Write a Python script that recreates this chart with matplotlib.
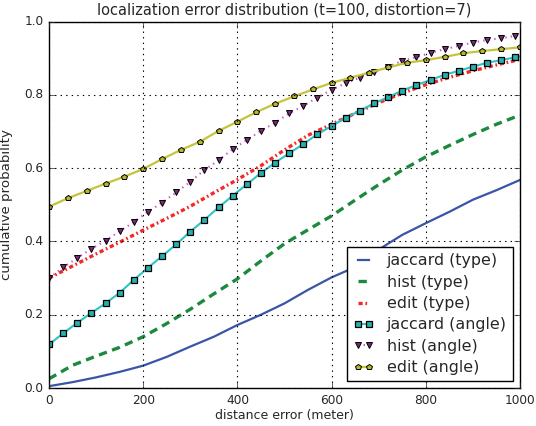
import matplotlib
matplotlib.use('Agg')
import matplotlib.pyplot as plt

plt.style.use('classic')
plt.rcParams['font.family'] = 'DejaVu Sans'
plt.rcParams['text.color'] = '#262626'
plt.rcParams['xtick.color'] = '#262626'
plt.rcParams['ytick.color'] = '#262626'
plt.rcParams['axes.labelcolor'] = '#262626'

# curves without markers, sampled every 50 m
x_type = [0, 50, 100, 150, 200, 250, 300, 350, 400, 450, 500,
          550, 600, 650, 700, 750, 800, 850, 900, 950, 1000]
jaccard_type = [0.005, 0.016, 0.029, 0.044, 0.061, 0.085, 0.113, 0.140, 0.172, 0.200, 0.231,
                0.268, 0.302, 0.330, 0.378, 0.418, 0.450, 0.481, 0.514, 0.540, 0.568]
hist_type = [0.025, 0.062, 0.087, 0.111, 0.140, 0.176, 0.215, 0.257, 0.298, 0.347, 0.394,
             0.432, 0.470, 0.513, 0.555, 0.595, 0.631, 0.662, 0.692, 0.720, 0.745]
edit_type = [0.300, 0.333, 0.366, 0.398, 0.431, 0.463, 0.496, 0.533, 0.569, 0.607, 0.650,
             0.690, 0.720, 0.750, 0.779, 0.805, 0.828, 0.848, 0.866, 0.882, 0.897]

# angle curves, markers every 30 m (jaccard, hist) and 40 m (edit)
x_angle30 = [0, 30, 60, 90, 120, 150, 180, 210, 240, 270, 300, 330, 360, 390, 420, 450, 480,
             510, 540, 570, 600, 630, 660, 690, 720, 750, 780, 810, 840, 870, 900, 930, 960, 990, 1000]
jaccard_angle = [0.119, 0.149, 0.178, 0.205, 0.231, 0.260, 0.295, 0.328, 0.360, 0.392, 0.427,
                 0.459, 0.493, 0.525, 0.556, 0.587, 0.615, 0.641, 0.666, 0.693, 0.715, 0.738,
                 0.757, 0.777, 0.794, 0.812, 0.827, 0.841, 0.855, 0.866, 0.877, 0.888, 0.895,
                 0.903, 0.905]
hist_angle = [0.300, 0.329, 0.355, 0.380, 0.402, 0.428, 0.453, 0.481, 0.506, 0.534, 0.563,
              0.595, 0.622, 0.652, 0.677, 0.702, 0.724, 0.750, 0.770, 0.793, 0.814, 0.832,
              0.847, 0.862, 0.877, 0.893, 0.903, 0.915, 0.925, 0.934, 0.943, 0.950, 0.955,
              0.961, 0.963]
x_angle40 = [0, 40, 80, 120, 160, 200, 240, 280, 320, 360, 400, 440, 480,
             520, 560, 600, 640, 680, 720, 760, 800, 840, 880, 920, 960, 1000]
edit_angle = [0.495, 0.518, 0.538, 0.558, 0.577, 0.598, 0.625, 0.650, 0.672, 0.702, 0.727, 0.753, 0.776,
              0.796, 0.815, 0.833, 0.847, 0.861, 0.875, 0.888, 0.895, 0.904, 0.914, 0.920, 0.925, 0.930]

fig = plt.figure(figsize=(5.36, 4.26), dpi=100, facecolor='white')
ax = fig.add_axes([49 / 536, 1 - 388 / 426, 471 / 536, 366.3 / 426])

ax.plot(x_type, jaccard_type, color='#3a55a8', lw=1.6, label='jaccard (type)')
ax.plot(x_type, hist_type, color='#1b8a3e', lw=2.4, ls='--', dashes=(6, 4), label='hist (type)')
ax.plot(x_type, edit_type, color='#f42828', lw=2.4, ls='-.', dashes=(3, 2, 1.2, 2), label='edit (type)')
ax.plot(x_angle30, jaccard_angle, color='#2ec4c4', lw=1.5, marker='s', ms=4.6,
        mfc='#26b0b0', mec='k', mew=0.9, markevery=list(range(34)), label='jaccard (angle)')
ax.plot(x_angle30, hist_angle, color='#c060c0', lw=1.5, ls=':', marker='v', ms=5,
        mfc='#7a2a78', mec='k', mew=0.7, markevery=list(range(34)), label='hist (angle)')
ax.plot(x_angle40, edit_angle, color='#c4c43a', lw=1.6, marker='p', ms=4,
        mfc='#b8b82c', mec='k', mew=0.7, label='edit (angle)')

ax.set_xlim(0, 1000)
ax.set_ylim(0, 1.0)
ax.grid(True, color='k', ls=':', lw=0.8)
ax.tick_params(labelsize=8.7, direction='in')
ax.set_xlabel('distance error (meter)', fontsize=9, labelpad=2)
ax.set_ylabel('cumulative probability', fontsize=9.6, labelpad=8)
ax.set_title('localization error distribution (t=100, distortion=7)', fontsize=10.5)
ax.legend(loc='lower right', fontsize=11.4, numpoints=2, fancybox=False,
          handlelength=1.3, handletextpad=0.8, labelspacing=0.4,
          bbox_to_anchor=(0.985, 0.018), borderaxespad=0.0)

fig.savefig('out.png', dpi=100, facecolor='white')
